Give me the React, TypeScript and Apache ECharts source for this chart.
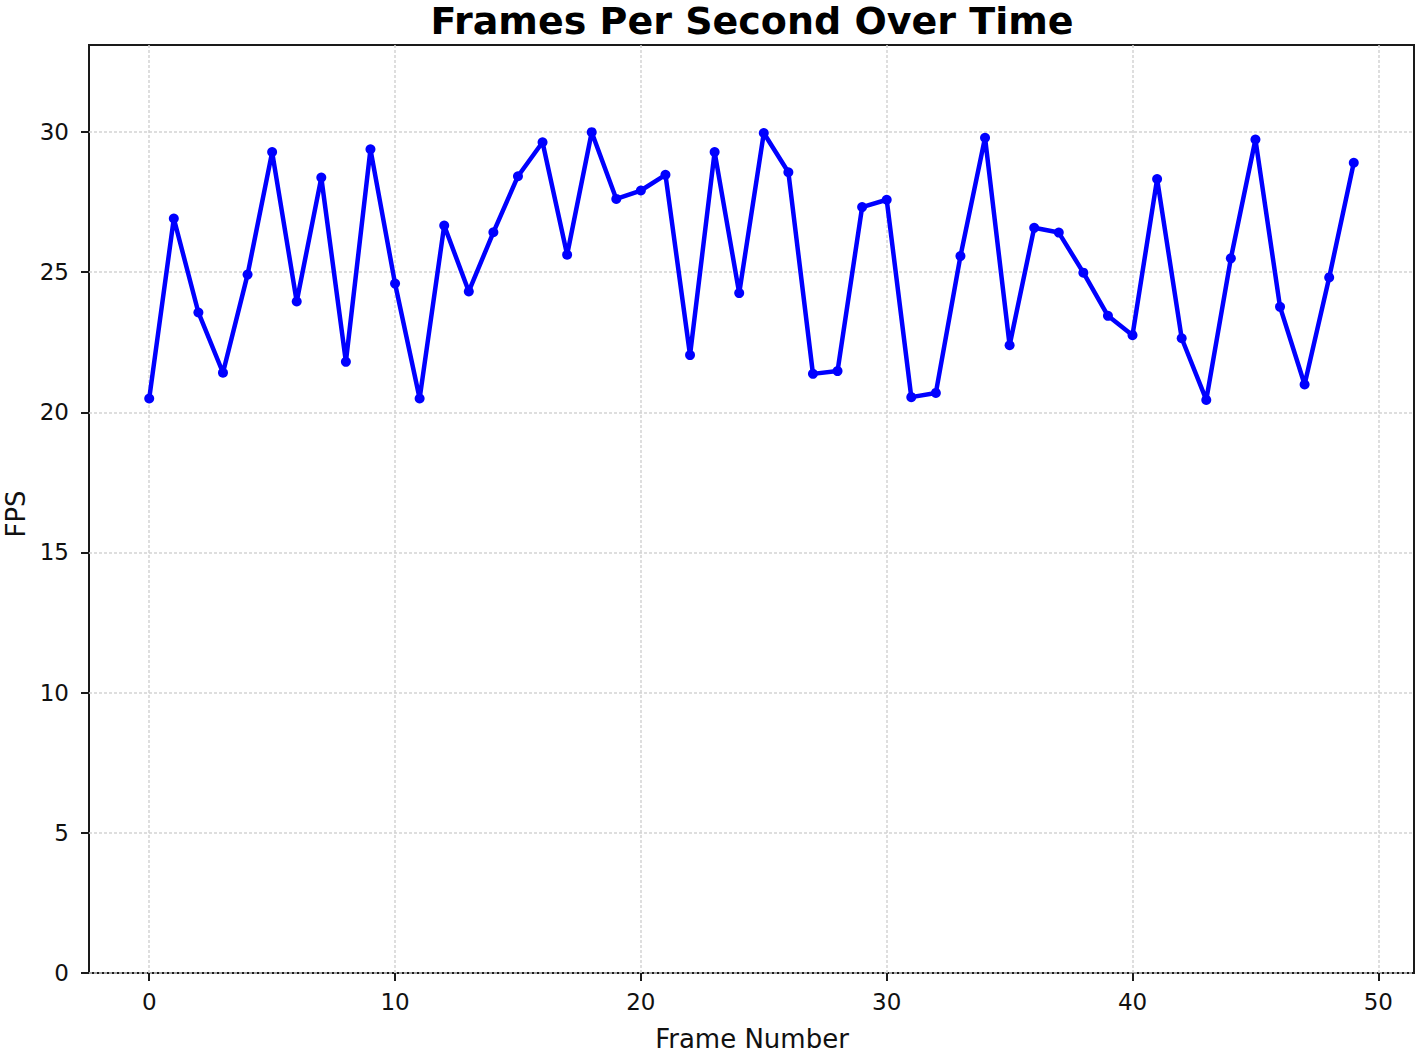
import React, { useEffect, useRef } from "react";
import * as echarts from "echarts";

const fps: number[] = [
  20.49, 26.91, 23.56, 21.41, 24.91, 29.28, 23.95, 28.37, 21.8, 29.38,
  24.59, 20.49, 26.66, 24.31, 26.42, 28.42, 29.63, 25.62, 29.99, 27.61,
  27.91, 28.47, 22.04, 29.28, 24.25, 29.96, 28.56, 21.37, 21.47, 27.32,
  27.58, 20.54, 20.69, 25.57, 29.79, 22.39, 26.58, 26.41, 24.98, 23.44,
  22.75, 28.32, 22.64, 20.44, 25.49, 29.73, 23.76, 20.99, 24.81, 28.9,
];
const xTicks: number[] = [0, 10, 20, 30, 40, 50];
const yTicks: number[] = [0, 5, 10, 15, 20, 25, 30];
const titleText = "Frames Per Second Over Time";
const xLabel = "Frame Number";
const yLabel = "FPS";

const FONT = "'DejaVu Sans', sans-serif";

export default function App() {
  const ref = useRef<HTMLDivElement>(null);
  useEffect(() => {
    if (!ref.current) return;
    const chart = echarts.init(ref.current, undefined, { renderer: "svg" });
    const gridLine = { show: true, lineStyle: { color: "#d4d4d4", width: 1.5, type: [3, 2] as any } };
    chart.setOption({
      animation: false,
      backgroundColor: "#ffffff",
      grid: {
        left: 89,
        right: 3,
        top: 45,
        bottom: 81,
        show: true,
        borderColor: "#1a1a1a",
        borderWidth: 2,
        backgroundColor: "transparent",
      },
      xAxis: {
        type: "value",
        min: -2.45,
        max: 51.45,
        axisLine: { show: false, onZero: false },
        axisTick: {
          show: true,
          inside: false,
          customValues: xTicks,
          length: 8,
          lineStyle: { color: "#1a1a1a", width: 2 },
        },
        axisLabel: {
          customValues: xTicks,
          margin: 17,
          color: "#111",
          fontSize: 23,
          fontFamily: FONT,
        },
        splitLine: gridLine,
      },
      yAxis: {
        type: "value",
        min: 0,
        max: 33.1,
        axisLine: { show: false, onZero: false },
        axisTick: {
          show: true,
          inside: false,
          customValues: yTicks,
          length: 8,
          lineStyle: { color: "#1a1a1a", width: 2 },
        },
        axisLabel: {
          customValues: yTicks,
          margin: 20,
          color: "#111",
          fontSize: 23,
          fontFamily: FONT,
        },
        splitLine: gridLine,
      },
      graphic: [
        {
          type: "text",
          x: 752,
          y: 21,
          style: {
            text: titleText,
            fontSize: 38,
            fontWeight: "bold",
            fontFamily: FONT,
            fill: "#000",
            textAlign: "center",
            textVerticalAlign: "middle",
          },
        },
        {
          type: "text",
          x: 752,
          y: 1039,
          style: {
            text: xLabel,
            fontSize: 26,
            fontFamily: FONT,
            fill: "#111",
            textAlign: "center",
            textVerticalAlign: "middle",
          },
        },
        {
          type: "text",
          x: 16,
          y: 514,
          rotation: Math.PI / 2,
          style: {
            text: yLabel,
            fontSize: 26,
            fontFamily: FONT,
            fill: "#111",
            textAlign: "center",
            textVerticalAlign: "middle",
          },
        },
      ],
      series: [
        {
          type: "line",
          data: fps.map((v, i) => [i, v]),
          lineStyle: { color: "#0000ff", width: 4.5 },
          itemStyle: { color: "#0000ff" },
          symbol: "circle",
          symbolSize: 10,
          showSymbol: true,
          z: 5,
        },
      ],
    });
    return () => chart.dispose();
  }, []);
  return (
    <div
      ref={ref}
      style={{ position: "absolute", left: 0, top: 0, width: 1417, height: 1054 }}
    />
  );
}
